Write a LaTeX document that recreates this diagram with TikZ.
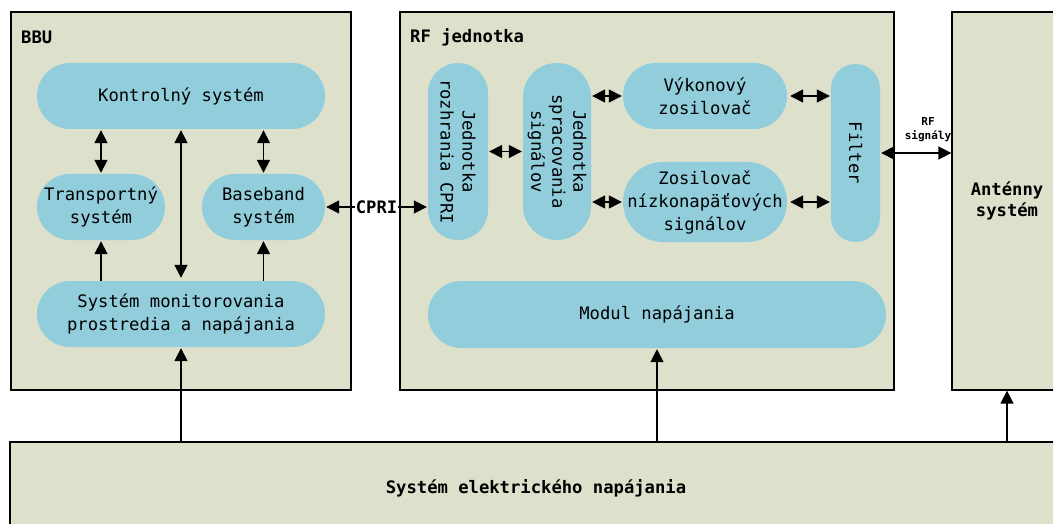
\documentclass[tikz,border=0pt]{standalone}
\usepackage{fontspec}
\setmonofont{DejaVu Sans Mono}
\usetikzlibrary{arrows.meta}
\definecolor{panelfill}{HTML}{DDE0CB}
\definecolor{unitfill}{HTML}{92CDDC}
\begin{document}
\begin{tikzpicture}[x=1pt,y=-1pt,
  panel/.style={draw=black, line width=1.3pt, fill=panelfill, rectangle, inner sep=0pt},
  unit/.style={fill=unitfill, rectangle, inner sep=0pt, align=center,
    font=\ttfamily\fontsize{17.2}{23}\selectfont},
  title/.style={font=\ttfamily\bfseries\fontsize{17.2}{23}\selectfont, inner sep=0pt},
  link/.style={line width=1.6pt, {Triangle[length=13pt,width=13pt]}-{Triangle[length=13pt,width=13pt]}},
  feed/.style={line width=1.6pt, -{Triangle[length=13pt,width=13pt]}}]
\useasboundingbox (0,0) rectangle (1053,524);

% outer blocks
\node[panel, minimum width=340pt, minimum height=378pt] (bbu) at (181,201) {};
\node[panel, minimum width=494pt, minimum height=378pt] (rf) at (647,201) {};
\node[panel, minimum width=110pt, minimum height=378pt, align=center,
  font=\ttfamily\bfseries\fontsize{17.2}{21}\selectfont] (ant) at (1007,201) {Anténny\\systém};
\node[panel, minimum width=1052pt, minimum height=92pt,
  font=\ttfamily\bfseries\fontsize{17.2}{23}\selectfont] (pwr) at (536,488) {Systém elektrického napájania};

\node[title, anchor=west] (bbut) at (21,37) {BBU};
\node[title, anchor=west] (rft) at (410,37) {RF jednotka};

% BBU units
\node[unit, minimum width=288pt, minimum height=66pt, rounded corners=33pt] (ctrl) at (181,96) {Kontrolný systém};
\node[unit, minimum width=128pt, minimum height=66pt, rounded corners=33pt] (trans) at (101,207) {Transportný\\systém};
\node[unit, minimum width=123pt, minimum height=66pt, rounded corners=33pt] (base) at (263.5,207) {Baseband\\systém};
\node[unit, minimum width=288pt, minimum height=66pt, rounded corners=33pt] (mon) at (181,314) {Systém monitorovania\\prostredia a napájania};

% RF units
\node[unit, minimum width=60pt, minimum height=177pt, rounded corners=30pt] (cpriu) at (458,151.5) {};
\node[unit, rotate=-90, font=\ttfamily\fontsize{17.2}{22}\selectfont] at (cpriu.center) {Jednotka\\rozhrania CPRI};
\node[unit, minimum width=68pt, minimum height=177pt, rounded corners=34pt] (sig) at (557,151.5) {};
\node[unit, rotate=-90, font=\ttfamily\fontsize{17.2}{21}\selectfont] at (sig.center) {Jednotka\\spracovania\\signálov};
\node[unit, minimum width=164pt, minimum height=66pt, rounded corners=33pt] (pa) at (705,96) {Výkonový\\zosilovač};
\node[unit, minimum width=164pt, minimum height=80pt, rounded corners=40pt] (lna) at (705,202) {Zosilovač\\nízkonapäťových\\signálov};
\node[unit, minimum width=49pt, minimum height=178pt, rounded corners=24.5pt] (filt) at (855.5,153) {};
\node[unit, rotate=-90] at (filt.center) {Filter};
\node[unit, minimum width=458pt, minimum height=67pt, rounded corners=33.5pt] (mod) at (657,314.5) {Modul napájania};

% links inside BBU
\draw[link, shorten <=1pt, shorten >=1pt] (trans.north) -- (trans.north |- ctrl.south);
\draw[link, shorten <=1pt, shorten >=3pt] (ctrl.south) -- (mon.north);
\draw[link, shorten <=1pt, shorten >=1pt] (base.north) -- (base.north |- ctrl.south);
\draw[feed, shorten >=1pt] (trans.south |- mon.north) -- (trans.south);
\draw[feed, shorten >=1pt] (base.south |- mon.north) -- (base.south);

% CPRI link
\draw[link, shorten <=1pt, shorten >=1pt] (base.east) -- (cpriu.west |- base.east)
  node[midway, fill=white, inner sep=1pt, font=\ttfamily\bfseries\fontsize{17.2}{20}\selectfont] (cprit) {CPRI};

% links inside RF unit
\draw[link, shorten <=1pt, shorten >=1pt] (cpriu.east) -- (sig.west);
\draw[link, shorten <=1pt, shorten >=1pt] (sig.east |- pa.west) -- (pa.west);
\draw[link, shorten <=1pt, shorten >=1pt] (sig.east |- lna.west) -- (lna.west);
\draw[link, shorten <=3pt, shorten >=1pt] (pa.east) -- (filt.west |- pa.east);
\draw[link, shorten <=3pt, shorten >=1pt] (lna.east) -- (filt.west |- lna.east);

% RF signals to the antenna
\draw[link, shorten <=1pt] (filt.east) -- (ant.west |- filt.east);
\node[align=center, inner sep=0pt, font=\ttfamily\bfseries\fontsize{11}{14}\selectfont] (rfsig) at (928,130) {RF\\signály};

% power feeds
\draw[feed, shorten >=1pt] (pwr.north -| mon.south) -- (mon.south);
\draw[feed, shorten >=1pt] (pwr.north -| mod.south) -- (mod.south);
\draw[feed] (pwr.north -| ant.south) -- (ant.south);
\end{tikzpicture}
\end{document}
